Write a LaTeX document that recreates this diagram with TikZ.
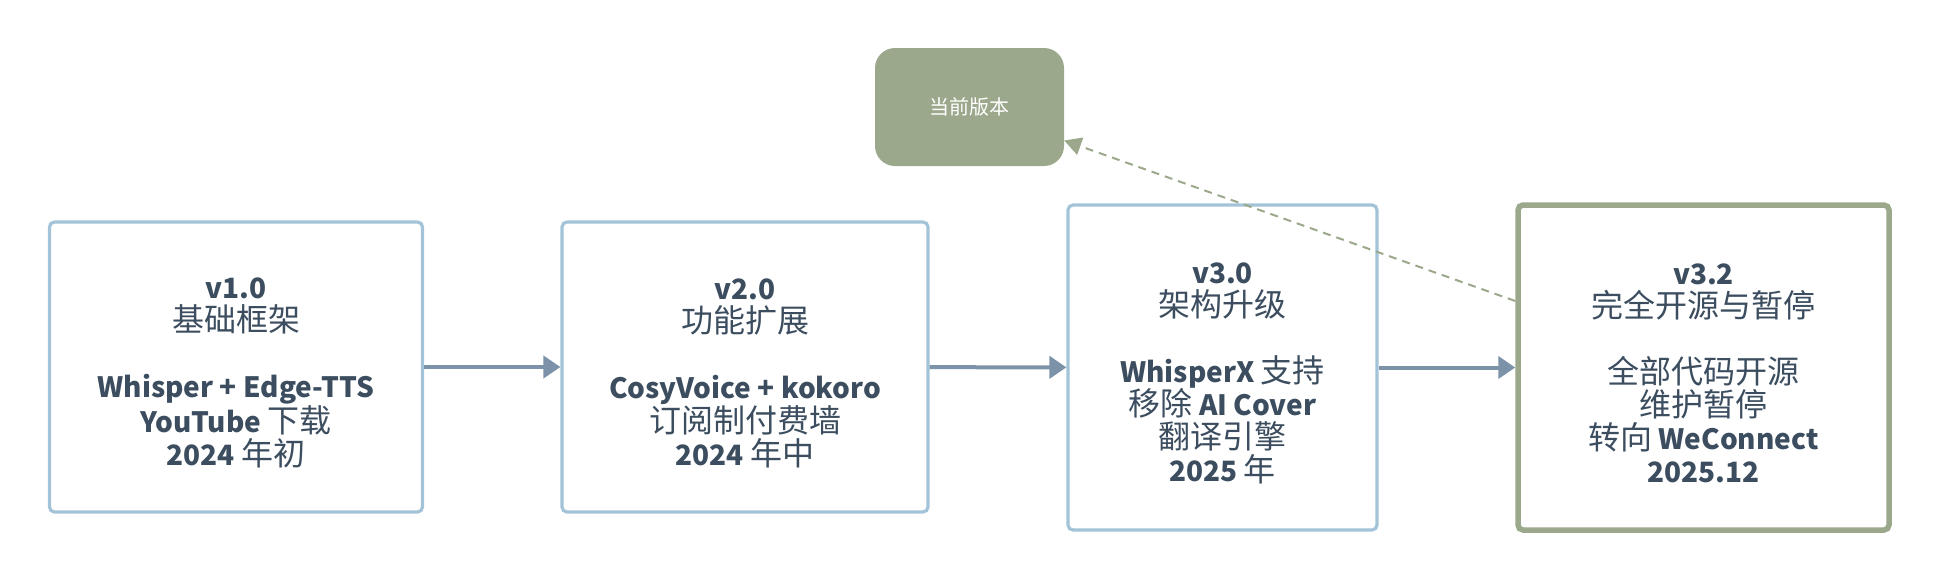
\documentclass[tikz,border=0pt]{standalone}
\usepackage{fontspec}
\setmainfont{Noto Sans CJK SC}
\usetikzlibrary{arrows.meta}
\definecolor{txt}{HTML}{3B4D5F}
\definecolor{bluebd}{HTML}{A3C4D8}
\definecolor{arr}{HTML}{7B92A9}
\definecolor{grn}{HTML}{9BA88B}
\newcommand\B[1]{\textbf{#1}}
\newcommand\C[1]{{\fontsize{32}{33}\selectfont #1}}
\tikzset{
  ver/.style={draw=bluebd, line width=3.2pt, rounded corners=5pt, fill=white, inner sep=0pt},
  curver/.style={ver, draw=grn, line width=5.5pt},
  lbl/.style={align=center, text=txt, font=\fontsize{28}{33}\selectfont, inner sep=0pt, yshift=-6pt},
  tag/.style={fill=grn, draw=none, rounded corners=20pt, text=white,
    font=\fontsize{20}{22}\selectfont, minimum width=189pt, minimum height=118pt, inner sep=0pt},
  flow/.style={draw=arr, line width=4pt, -{Triangle[length=17pt,width=22pt]}},
  link/.style={draw=grn, line width=2pt, dash pattern=on 8pt off 6pt,
    -{Triangle[length=17pt,width=18pt]}}
}
\begin{document}
\begin{tikzpicture}[x=1pt,y=-1pt]
\useasboundingbox (0,0) rectangle (1940,582);
\node[ver, minimum width=373pt, minimum height=290pt,
  label={[lbl]center:{\B{v1.0}\\\C{基础框架}\\[33pt]\B{Whisper + Edge-TTS}\\\B{YouTube} \C{下载}\\\B{2024} \C{年初}}}]
  (v1) at (236,367) {};
\node[ver, minimum width=366pt, minimum height=290pt,
  label={[lbl]center:{\B{v2.0}\\\C{功能扩展}\\[33pt]\B{CosyVoice + kokoro}\\\C{订阅制付费墙}\\\B{2024} \C{年中}}}]
  (v2) at (745,367) {};
\node[ver, minimum width=309pt, minimum height=325pt,
  label={[lbl]center:{\B{v3.0}\\\C{架构升级}\\[33pt]\B{WhisperX} \C{支持}\\\C{移除} \B{AI Cover}\\\C{翻译引擎}\\\B{2025} \C{年}}}]
  (v3) at (1222.5,367.5) {};
\node[curver, minimum width=371pt, minimum height=325pt,
  label={[lbl]center:{\B{v3.2}\\\C{完全开源与暂停}\\[33pt]\C{全部代码开源}\\\C{维护暂停}\\\C{转向} \B{WeConnect}\\\B{2025.12}}}]
  (v32) at (1703.5,367.5) {};
\node[tag] (cur) at (969.5,107) {当前版本};
\draw[flow] (v1) -- (v2);
\draw[flow] (v2) -- (v3);
\draw[flow] (v3) -- (v32);
\draw[link] (v32) -- (cur);
\end{tikzpicture}
\end{document}
